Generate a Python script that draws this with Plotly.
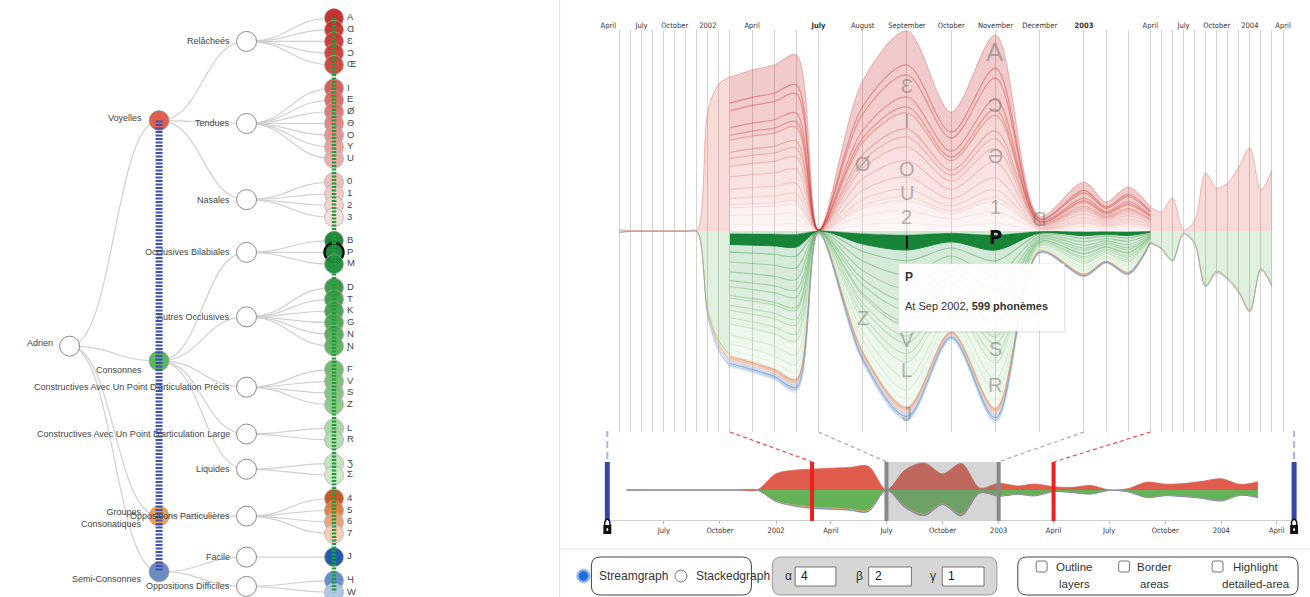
import numpy as np
import pandas as pd
import plotly.graph_objects as go

W, H = 1310, 597

# ======================= DATA =======================
MONTHS = pd.date_range("2001-05-01", "2004-03-01", freq="MS")

# monthly totals (phonemes) per family
VOYELLES = [60, 12, 12, 12, 12, 12, 12, 12,
            4800, 5880, 6160, 6440, 6640, 7040, 40,
            6000, 8000, 4760, 7840, 600,
            1960, 1160, 1760, 960, 760, 1320, 40,
            400, 2320, 1720, 1920, 2560, 3320, 1640, 2440]
CONSONNES = [50, 10, 10, 10, 10, 10, 10, 10,
             3200, 4400, 4960, 5200, 5480, 5880, 60,
             4800, 7000, 4000, 7040, 800,
             1720, 1200, 1640, 440, 680, 1160, 100,
             480, 2160, 1600, 1880, 2400, 3160, 1500, 2160]
GROUPES = [5, 1, 1, 1, 1, 1, 1, 1,
           80, 160, 200, 200, 200, 200, 5,
           160, 240, 120, 240, 40,
           40, 40, 40, 20, 20, 20, 5,
           20, 30, 30, 30, 40, 40, 30, 40]
SEMI = [5, 1, 1, 1, 1, 1, 1, 1,
        160, 240, 280, 280, 280, 360, 10,
        320, 360, 240, 400, 40,
        80, 40, 80, 20, 20, 20, 5,
        20, 50, 50, 50, 40, 40, 30, 40]

VOWEL_LEAVES = ["A", "Ɑ", "Ɛ", "Ɔ", "Œ", "I", "E", "Ø", "Ə", "O", "Y", "U", "0", "1", "2", "3"]
VOWEL_SHARE = [0.17, 0.05, 0.11, 0.05, 0.03, 0.08, 0.04, 0.05, 0.07, 0.08, 0.06, 0.04, 0.02, 0.05, 0.06, 0.04]
CONS_LEAVES = ["B", "P", "M", "D", "T", "K", "G", "N", "Ɲ", "F", "V", "S", "Z", "L", "R", "Ʒ", "Ʃ"]
CONS_SHARE = [0.023, 0.0856, 0.0614, 0.08, 0.08, 0.07, 0.05, 0.07, 0.02, 0.06, 0.04, 0.06, 0.05, 0.09, 0.07, 0.05, 0.04]
GROUP_LEAVES = ["4", "5", "6", "7"]
GROUP_SHARE = [0.35, 0.30, 0.20, 0.15]
SEMI_LEAVES = ["J", "Ɥ", "W"]
SEMI_SHARE = [0.50, 0.25, 0.25]

TREE = ("Adrien", [
    ("Voyelles", [("Relâcheés", VOWEL_LEAVES[0:5]),
                  ("Tendues", VOWEL_LEAVES[5:12]),
                  ("Nasales", VOWEL_LEAVES[12:16])]),
    ("Consonnes", [("Occlusives Bilabiales", CONS_LEAVES[0:3]),
                   ("Autres Occlusives", CONS_LEAVES[3:9]),
                   ("Constructives Avec Un Point D'articulation Précis", CONS_LEAVES[9:13]),
                   ("Constructives Avec Un Point D'articulation Large", CONS_LEAVES[13:15]),
                   ("Liquides", CONS_LEAVES[15:17])]),
    ("Groupes<br>Consonatiques", [("Oppositions Particulières", GROUP_LEAVES)]),
    ("Semi-Consonnes", [("Facile", SEMI_LEAVES[0:1]),
                        ("Oppositions Difficiles", SEMI_LEAVES[1:3])]),
])

TOP_TICKS = {"2001-04-01": "April", "2001-07-01": "July", "2001-10-01": "October", "2002-01-01": "2002",
             "2002-04-01": "April", "2002-07-01": "<b>July</b>", "2002-08-01": "August",
             "2002-09-01": "September", "2002-10-01": "October", "2002-11-01": "November",
             "2002-12-01": "December", "2003-01-01": "<b>2003</b>", "2003-04-01": "April",
             "2003-07-01": "July", "2003-10-01": "October", "2004-01-01": "2004", "2004-04-01": "April"}
OV_TICKS = {"2001-07-01": "July", "2001-10-01": "October", "2002-01-01": "2002", "2002-04-01": "April",
            "2002-07-01": "July", "2002-10-01": "October", "2003-01-01": "2003", "2003-04-01": "April",
            "2003-07-01": "July", "2003-10-01": "October", "2004-01-01": "2004", "2004-04-01": "April"}

STREAM_LABELS = [("Ø", "2002-08-01"), ("Ɛ", "2002-09-01"), ("I", "2002-09-01"), ("O", "2002-09-01"),
                 ("U", "2002-09-01"), ("2", "2002-09-01"), ("A", "2002-11-01"), ("Ɔ", "2002-11-01"),
                 ("Ə", "2002-11-01"), ("1", "2002-11-01"), ("Ɑ", "2002-12-01"), ("Z", "2002-08-01"),
                 ("V", "2002-09-01"), ("L", "2002-09-01"), ("J", "2002-09-01"), ("S", "2002-11-01"),
                 ("R", "2002-11-01")]
SELECTED, SELECTED_MONTH, SELECTED_LABEL_MONTH = "P", "2002-09-01", "2002-11-01"

AXIS_START, AXIS_END = "2001-04-01", "2004-05-01"
DETAIL_START, FOCUS_START, FOCUS_END, DETAIL_END = "2002-03-01", "2002-07-01", "2003-01-01", "2003-04-01"
ALPHA, BETA, GAMMA = 4, 2, 1

# ======================= STYLE =======================
LEAF_RGB = dict(zip(VOWEL_LEAVES, [
    (196, 38, 38), (200, 45, 42), (203, 52, 48), (206, 58, 53), (209, 64, 58),
    (214, 88, 82), (218, 102, 96), (222, 116, 110), (226, 130, 124), (229, 144, 138), (232, 158, 152), (235, 170, 165),
    (238, 188, 184), (241, 200, 196), (243, 210, 206), (246, 220, 217)]))
LEAF_RGB.update(dict(zip(CONS_LEAVES, [
    (20, 128, 52), (24, 132, 56), (30, 138, 60), (50, 150, 62), (58, 155, 68), (66, 160, 74), (74, 165, 80),
    (82, 170, 86), (90, 175, 92), (108, 184, 104), (118, 190, 114), (128, 195, 124), (138, 200, 134),
    (168, 214, 162), (178, 220, 172), (194, 228, 188), (204, 233, 198)])))
LEAF_RGB.update(dict(zip(GROUP_LEAVES, [(200, 78, 30), (224, 122, 62), (234, 160, 116), (244, 204, 178)])))
LEAF_RGB.update(dict(zip(SEMI_LEAVES, [(22, 82, 165), (92, 138, 200), (172, 198, 230)])))
L1_COLORS = {"Voyelles": "#e0604f", "Consonnes": "#5cb85c", "Groupes<br>Consonatiques": "#f0a050",
             "Semi-Consonnes": "#6c8cbf"}
L1_LABEL_DY = {"Voyelles": -3, "Consonnes": 9, "Groupes<br>Consonatiques": 2, "Semi-Consonnes": 7}
AGG_RGB = {"V": (224, 92, 76), "C": (100, 178, 88), "G": (241, 163, 92), "S": (105, 132, 205)}
FONT = "Liberation Sans, Arial, sans-serif"
NARROW = "Liberation Sans Narrow, DejaVu Sans Condensed, Liberation Sans, sans-serif"
SM = 0.9


def rgba(c, a):
    return f"rgba({c[0]},{c[1]},{c[2]},{a})"


def PX(x):
    return x / W


def PY(y):
    return 1 - y / H


MAIN_X, MAIN_Y = (604, 1294), (30, 432)
OV_X, OV_Y = (604, 1295), (462, 520)
TREE_W = 555
MAIN_YR = 8040
OV_YR = (-8880, 8290)


# ---------- focus + context (fisheye) time scale ----------
def mo(d):
    d = pd.Timestamp(d)
    return (d.year - 2001) * 12 + (d.month - 4) + (d.day - 1) / 31.0


KNOTS_M = [mo(AXIS_START), mo(DETAIL_START), mo(FOCUS_START), mo(FOCUS_END), mo(DETAIL_END), mo(AXIS_END)]
ZONE_W = [GAMMA, BETA, ALPHA, BETA, GAMMA]
KNOTS_U = [0.0]
for i, w in enumerate(ZONE_W):
    KNOTS_U.append(KNOTS_U[-1] + w * (KNOTS_M[i + 1] - KNOTS_M[i]))
U_TOTAL = KNOTS_U[-1]


def warp(m):
    return np.interp(m, KNOTS_M, KNOTS_U)


def main_px(d):
    return MAIN_X[0] + warp(mo(d)) / U_TOTAL * (MAIN_X[1] - MAIN_X[0])


def ov_px(d):
    return OV_X[0] + (mo(d) - mo(AXIS_START)) / (mo(AXIS_END) - mo(AXIS_START)) * (OV_X[1] - OV_X[0])


m_arr = np.array([mo(d) for d in MONTHS])
xm = warp(m_arr)

V = np.array(VOYELLES, float)
C = np.array(CONSONNES, float)
G = np.array(GROUPES, float)
S = np.array(SEMI, float)

LAYER = {}
for names, shares, tot in [(VOWEL_LEAVES, VOWEL_SHARE, V), (CONS_LEAVES, CONS_SHARE, C),
                           (GROUP_LEAVES, GROUP_SHARE, G), (SEMI_LEAVES, SEMI_SHARE, S)]:
    for n, s in zip(names, shares):
        LAYER[n] = tot * s
UPPER_ORDER = VOWEL_LEAVES[::-1]
LOWER_ORDER = CONS_LEAVES + GROUP_LEAVES + SEMI_LEAVES


def month_idx(d):
    return int(np.where(MONTHS == pd.Timestamp(d))[0][0])


def layer_span(name, i):
    order, sign = (UPPER_ORDER, 1) if name in UPPER_ORDER else (LOWER_ORDER, -1)
    k = order.index(name)
    below = sum(LAYER[n][i] for n in order[:k])
    return sign * below, sign * (below + LAYER[name][i])


fig = go.Figure()


def add_stack(x, layers, sign, xa, ya):
    cum = np.zeros(len(x))
    fig.add_trace(go.Scatter(x=x, y=cum.copy(), mode="lines", xaxis=xa, yaxis=ya,
                             line=dict(width=0, shape="spline", smoothing=SM),
                             hoverinfo="skip", showlegend=False))
    for vals, fillc, linec, lw in layers:
        cum = cum + np.asarray(vals, float)
        fig.add_trace(go.Scatter(x=x, y=sign * cum, mode="lines", fill="tonexty", fillcolor=fillc,
                                 xaxis=xa, yaxis=ya,
                                 line=dict(color=linec, width=lw, shape="spline", smoothing=SM),
                                 hoverinfo="skip", showlegend=False))


# ---------- main streamgraph: detailed part ----------
sel_d = (MONTHS >= pd.Timestamp(DETAIL_START)) & (MONTHS <= pd.Timestamp(DETAIL_END))
xd = xm[sel_d]
up_layers = []
for n in UPPER_ORDER:
    c = LEAF_RGB[n]
    up_layers.append((LAYER[n][sel_d], rgba(c, 0.24), rgba(c, 0.25 if n == "A" else 0.42), 1.2))
add_stack(xd, up_layers, 1, "x", "y")
low_layers = []
for n in LOWER_ORDER:
    c = LEAF_RGB[n]
    if n == SELECTED:
        low_layers.append((LAYER[n][sel_d], rgba(c, 1.0), rgba(c, 1.0), 1.0))
    else:
        low_layers.append((LAYER[n][sel_d], rgba(c, 0.2), rgba(c, 0.36), 1.1))
add_stack(xd, low_layers, -1, "x", "y")

# ---------- main streamgraph: aggregated context parts ----------
for sel in [MONTHS <= pd.Timestamp(DETAIL_START), MONTHS >= pd.Timestamp(DETAIL_END)]:
    xs = xm[sel]
    add_stack(xs, [(V[sel], rgba(AGG_RGB["V"], 0.22), rgba(AGG_RGB["V"], 0.4), 1.0)], 1, "x", "y")
    add_stack(xs, [(C[sel], rgba(AGG_RGB["C"], 0.2), rgba(AGG_RGB["C"], 0.45), 1.0),
                   (G[sel], rgba(AGG_RGB["G"], 0.3), rgba(AGG_RGB["G"], 0.6), 1.0),
                   (S[sel], rgba(AGG_RGB["S"], 0.25), rgba(AGG_RGB["S"], 0.4), 1.0)], -1, "x", "y")

# ---------- overview ----------
add_stack(MONTHS, [(V, rgba(AGG_RGB["V"], 1), rgba(AGG_RGB["V"], 1), 0.8)], 1, "x2", "y2")
add_stack(MONTHS, [(C, rgba(AGG_RGB["C"], 1), rgba(AGG_RGB["C"], 1), 0.8),
                   (G, rgba(AGG_RGB["G"], 1), rgba(AGG_RGB["G"], 1), 0.8),
                   (S, rgba(AGG_RGB["S"], 1), rgba(AGG_RGB["S"], 1), 0.8)], -1, "x2", "y2")

# ---------- tree ----------
Y0, DY = 18, 11.72
DEPTH_X = [62, 152, 240, 328]
nodes, links = [], []
state = {"slot": 0, "parent": None}


def place(node, depth, parent):
    if isinstance(node, str):
        if state["parent"] is not None and state["parent"] != parent:
            state["slot"] += 1
        state["parent"] = parent
        rec = dict(name=node, depth=depth, x=DEPTH_X[depth], y=Y0 + state["slot"] * DY, leaf=True)
        state["slot"] += 1
        nodes.append(rec)
        return rec
    name, children = node
    kids = [place(ch, depth + 1, name) for ch in children]
    rec = dict(name=name, depth=depth, x=DEPTH_X[depth], y=(kids[0]["y"] + kids[-1]["y"]) / 2, leaf=False)
    nodes.append(rec)
    for k in kids:
        links.append((rec, k))
    return rec


place(TREE, 0, None)

shapes = []
for a, b in links:
    xm_ = (a["x"] + b["x"]) / 2
    shapes.append(dict(type="path", xref="x3", yref="y3", layer="below",
                       path=f"M {a['x']},{a['y']} C {xm_},{a['y']} {xm_},{b['y']} {b['x']},{b['y']}",
                       line=dict(color="#d0d0d0", width=1.2)))

white_nodes = [n for n in nodes if not n["leaf"] and n["depth"] in (0, 2)]
fig.add_trace(go.Scatter(x=[n["x"] for n in white_nodes], y=[n["y"] for n in white_nodes], mode="markers",
                         xaxis="x3", yaxis="y3", hoverinfo="skip", showlegend=False,
                         marker=dict(size=20, color="white", line=dict(color="#8a8a8a", width=1))))
l1 = [n for n in nodes if n["depth"] == 1]
fig.add_trace(go.Scatter(x=[n["x"] for n in l1], y=[n["y"] for n in l1], mode="markers",
                         xaxis="x3", yaxis="y3", hoverinfo="skip", showlegend=False,
                         marker=dict(size=20, color=[L1_COLORS[n["name"]] for n in l1],
                                     line=dict(color="rgba(150,150,150,0.6)", width=1))))
leaves = [n for n in nodes if n["leaf"]]
fig.add_trace(go.Scatter(x=[n["x"] for n in leaves], y=[n["y"] for n in leaves], mode="markers+text",
                         xaxis="x3", yaxis="y3", hoverinfo="skip", showlegend=False,
                         text=[n["name"] for n in leaves], textposition="middle right",
                         textfont=dict(family=FONT, size=9.5, color="#444"),
                         marker=dict(size=19, color=[rgba(LEAF_RGB[n["name"]], 0.95) for n in leaves],
                                     line=dict(color=["#111" if n["name"] == SELECTED else "rgba(170,170,170,0.7)"
                                                      for n in leaves],
                                               width=[2.5 if n["name"] == SELECTED else 1 for n in leaves]))))
# selection bars
fig.add_trace(go.Scatter(x=[DEPTH_X[1], DEPTH_X[1]], y=[l1[0]["y"], l1[-1]["y"]], mode="lines",
                         xaxis="x3", yaxis="y3", hoverinfo="skip", showlegend=False,
                         line=dict(color="#3f4fb3", width=7, dash="2px,1.5px")))
fig.add_trace(go.Scatter(x=[DEPTH_X[3], DEPTH_X[3]], y=[leaves[0]["y"], leaves[-1]["y"]], mode="lines",
                         xaxis="x3", yaxis="y3", hoverinfo="skip", showlegend=False,
                         line=dict(color="#1e9e3a", width=4.5, dash="2px,1.5px")))

annotations = []
for n in nodes:
    if n["leaf"]:
        continue
    dy = -3 if n["depth"] == 0 else (L1_LABEL_DY[n["name"]] if n["depth"] == 1 else 0)
    annotations.append(dict(x=n["x"] - 15, y=n["y"] + dy, xref="x3", yref="y3", text=n["name"],
                            xanchor="right", yanchor="middle", align="right", showarrow=False,
                            font=dict(family=FONT, size=9, color="#444")))

# ---------- main chart labels ----------
for name, d in STREAM_LABELS:
    i = month_idx(d)
    lo, hi = layer_span(name, i)
    annotations.append(dict(x=xm[i], y=(lo + hi) / 2, xref="x", yref="y", text=name, showarrow=False,
                            font=dict(family=FONT, size=26 if name == "A" else 20,
                                      color="rgba(110,110,110,0.5)")))
i_lab = month_idx(SELECTED_LABEL_MONTH)
lo, hi = layer_span(SELECTED, i_lab)
annotations.append(dict(x=xm[i_lab], y=(lo + hi) / 2, xref="x", yref="y", yshift=6, text=f"<b>{SELECTED}</b>",
                        showarrow=False, font=dict(family=NARROW, size=20, color="#111")))
i_sel = month_idx(SELECTED_MONTH)
lo, hi = layer_span(SELECTED, i_sel)
shapes.append(dict(type="line", xref="x", yref="y", x0=xm[i_sel], x1=xm[i_sel], y0=lo - 40, y1=hi + 40,
                   line=dict(color="#111", width=2)))
val = int(round(LAYER[SELECTED][i_sel]))
tip_month = pd.Timestamp(SELECTED_MONTH).strftime("%b %Y")
shapes.append(dict(type="rect", xref="paper", yref="paper", layer="above",
                   x0=PX(main_px(SELECTED_MONTH) - 8), x1=PX(main_px(SELECTED_MONTH) + 160),
                   y0=PY(333), y1=PY(265), fillcolor="rgba(0,0,0,0.06)", line=dict(width=0)))
annotations.append(dict(x=xm[i_sel], y=PY(263), xref="x", yref="paper", xshift=-9, xanchor="left",
                        yanchor="top", valign="top", align="left", showarrow=False, width=153, height=55,
                        borderpad=6, bgcolor="rgba(255,255,255,0.95)", bordercolor="rgba(0,0,0,0.05)",
                        borderwidth=1,
                        text=f"<span style='font-size:12px'><b>{SELECTED}</b></span><br><br>"
                             f"At {tip_month}, <b>{val} phonèmes</b>",
                        font=dict(family=FONT, size=11, color="#333")))

# ---------- overview decorations ----------
shapes.append(dict(type="rect", xref="x2", yref="paper", x0=FOCUS_START, x1=FOCUS_END,
                   y0=PY(OV_Y[1]), y1=PY(OV_Y[0]), fillcolor="rgba(128,128,128,0.33)",
                   line=dict(width=0), layer="above"))
for d, col in [(DETAIL_START, "#ee2020"), (DETAIL_END, "#ee2020"), (FOCUS_START, "#888"), (FOCUS_END, "#888")]:
    shapes.append(dict(type="line", xref="x2", yref="paper", x0=d, x1=d, y0=PY(OV_Y[1] + 1), y1=PY(OV_Y[0]),
                       line=dict(color=col, width=4), layer="above"))
    shapes.append(dict(type="line", xref="paper", yref="paper", x0=PX(main_px(d)), x1=PX(ov_px(d)),
                       y0=PY(MAIN_Y[1]), y1=PY(OV_Y[0]),
                       line=dict(color="#e84a4a" if col != "#888" else "#aaaaaa", width=1.2, dash="4px,3px")))
for d in [AXIS_START, AXIS_END]:
    px = ov_px(d) - 1
    shapes.append(dict(type="line", xref="paper", yref="paper", x0=PX(px), x1=PX(px), y0=PY(OV_Y[1]),
                       y1=PY(OV_Y[0]), line=dict(color="#3548a8", width=5)))
    shapes.append(dict(type="line", xref="paper", yref="paper", x0=PX(px), x1=PX(px), y0=PY(459),
                       y1=PY(431), line=dict(color="#aab2e8", width=2, dash="7px,4px")))
    # lock icon
    shapes.append(dict(type="rect", xref="paper", yref="paper", x0=PX(px - 4), x1=PX(px + 4),
                       y0=PY(534), y1=PY(525), fillcolor="#111", line=dict(width=0)))
    shapes.append(dict(type="path", xref="paper", yref="paper",
                       path=f"M {PX(px - 2.6)},{PY(525)} L {PX(px - 2.6)},{PY(522)} "
                            f"Q {PX(px)},{PY(516)} {PX(px + 2.6)},{PY(522)} L {PX(px + 2.6)},{PY(525)}",
                       line=dict(color="#111", width=1.5)))
    shapes.append(dict(type="circle", xref="paper", yref="paper", x0=PX(px - 1), x1=PX(px + 1),
                       y0=PY(531), y1=PY(528), fillcolor="white", line=dict(width=0)))

# ---------- panel separators & controls ----------
shapes.append(dict(type="line", xref="paper", yref="paper", x0=PX(555), x1=PX(555), y0=0, y1=1,
                   line=dict(color="#e3e3e3", width=1)))
shapes.append(dict(type="line", xref="paper", yref="paper", x0=PX(555), x1=1, y0=PY(549), y1=PY(549),
                   line=dict(color="#e6e6e6", width=1)))


def rr_path(x0, y0, x1, y1, r):
    pts = (f"M {PX(x0 + r)},{PY(y0)} L {PX(x1 - r)},{PY(y0)} Q {PX(x1)},{PY(y0)} {PX(x1)},{PY(y0 + r)} "
           f"L {PX(x1)},{PY(y1 - r)} Q {PX(x1)},{PY(y1)} {PX(x1 - r)},{PY(y1)} "
           f"L {PX(x0 + r)},{PY(y1)} Q {PX(x0)},{PY(y1)} {PX(x0)},{PY(y1 - r)} "
           f"L {PX(x0)},{PY(y0 + r)} Q {PX(x0)},{PY(y0)} {PX(x0 + r)},{PY(y0)} Z")
    return pts


shapes.append(dict(type="path", xref="paper", yref="paper", path=rr_path(587, 557, 748, 595, 9),
                   line=dict(color="#444", width=1)))
shapes.append(dict(type="path", xref="paper", yref="paper", path=rr_path(769, 557, 995, 595, 9),
                   fillcolor="#d6d6d6", line=dict(color="#999", width=1)))
shapes.append(dict(type="path", xref="paper", yref="paper", path=rr_path(1016, 557, 1298, 595, 9),
                   line=dict(color="#444", width=1)))
for x0, x1 in [(792, 833), (866, 909), (940, 982)]:
    shapes.append(dict(type="rect", xref="paper", yref="paper", x0=PX(x0), x1=PX(x1), y0=PY(586), y1=PY(567),
                       fillcolor="white", line=dict(color="#777", width=1)))
for cx in [1040, 1123, 1217]:
    shapes.append(dict(type="path", xref="paper", yref="paper", path=rr_path(cx - 5.5, 561, cx + 5.5, 572, 2),
                       fillcolor="white", line=dict(color="#777", width=1)))
shapes.append(dict(type="circle", xref="paper", yref="paper", x0=PX(573), x1=PX(585), y0=PY(582), y1=PY(570),
                   fillcolor="#1f6fd6", line=dict(color="rgba(140,180,240,0.9)", width=2.5)))
shapes.append(dict(type="circle", xref="paper", yref="paper", x0=PX(671), x1=PX(683), y0=PY(582), y1=PY(570),
                   fillcolor="white", line=dict(color="#777", width=1)))


def ptext(x, y, t, anchor="left", size=12, color="#333"):
    annotations.append(dict(x=PX(x), y=PY(y), xref="paper", yref="paper", text=t, xanchor=anchor,
                            yanchor="middle", showarrow=False, font=dict(family=FONT, size=size, color=color)))


ptext(593, 576, "Streamgraph")
ptext(690, 576, "Stackedgraph")
for sym, sx, num, nx in [("α", 785, "4", 796), ("β", 857, "2", 870), ("γ", 931, "1", 944)]:
    ptext(sx, 576, sym, "center", 12)
    ptext(nx, 576, num, "left", 12, "#111")
for cx, l1t, l2t in [(1073, "Outline", "layers"), (1154, "Border", "areas"), (1256, "Highlight", "detailed-area")]:
    ptext(cx, 567, l1t, "center", 11.5)
    ptext(cx, 584, l2t, "center", 11.5)

# ---------- axes ----------
grid_dates = pd.date_range(AXIS_START, "2004-04-01", freq="MS")
fig.update_layout(
    width=W, height=H, margin=dict(l=0, r=0, t=0, b=0),
    paper_bgcolor="white", plot_bgcolor="white", hovermode=False, showlegend=False,
    xaxis=dict(domain=[PX(MAIN_X[0]), PX(MAIN_X[1])], range=[0, U_TOTAL], anchor="y", side="top",
               tickvals=[float(warp(mo(d))) for d in grid_dates],
               ticktext=[TOP_TICKS.get(d.strftime("%Y-%m-%d"), "") for d in grid_dates],
               showgrid=True, gridcolor="#d3d3d3", gridwidth=1, ticks="", zeroline=False, showline=False,
               tickfont=dict(family=NARROW, size=7.5, color="#333"), fixedrange=True),
    yaxis=dict(domain=[PY(MAIN_Y[1]), PY(MAIN_Y[0])], range=[-MAIN_YR, MAIN_YR], anchor="x",
               visible=False, fixedrange=True),
    xaxis2=dict(domain=[PX(OV_X[0]), PX(OV_X[1])], type="date", range=[AXIS_START, AXIS_END], anchor="y2",
                tickvals=list(OV_TICKS.keys()), ticktext=list(OV_TICKS.values()), ticks="outside", ticklen=3,
                tickcolor="#bbb", showline=True, linecolor="#cfcfcf", showgrid=False, zeroline=False,
                tickfont=dict(family=NARROW, size=7.5, color="#333"), fixedrange=True),
    yaxis2=dict(domain=[PY(OV_Y[1]), PY(OV_Y[0])], range=list(OV_YR), anchor="x2", visible=False,
                fixedrange=True),
    xaxis3=dict(domain=[0, PX(TREE_W)], range=[0, TREE_W], anchor="y3", visible=False, fixedrange=True),
    yaxis3=dict(domain=[0, 1], range=[H, 0], anchor="x3", visible=False, fixedrange=True),
    shapes=shapes, annotations=annotations,
)

fig.write_html("out.html", config={"displayModeBar": False},
               post_script="document.body.style.margin='0';document.body.style.overflow='hidden';")
